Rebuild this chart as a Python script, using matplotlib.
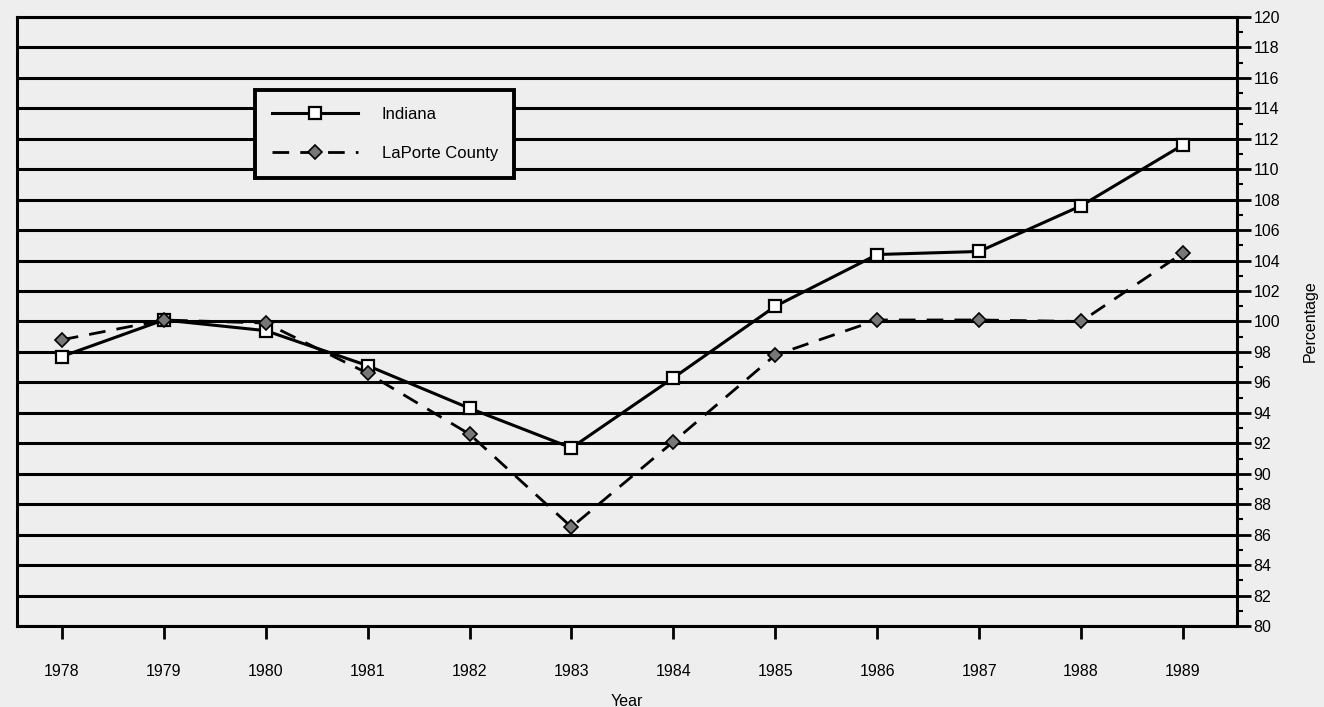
import matplotlib
matplotlib.use("Agg")
import matplotlib.pyplot as plt
from matplotlib.ticker import MultipleLocator

years = [1978, 1979, 1980, 1981, 1982, 1983, 1984, 1985, 1986, 1987, 1988, 1989]
indiana = [97.7, 100.1, 99.4, 97.1, 94.3, 91.7, 96.3, 101.0, 104.4, 104.6, 107.6, 111.6]
laporte = [98.8, 100.1, 99.9, 96.6, 92.6, 86.5, 92.1, 97.8, 100.1, 100.1, 100.0, 104.5]
y_ticks = list(range(80, 121, 2))

plt.rcParams['font.family'] = ['Liberation Sans', 'DejaVu Sans']
bg = '#eeeeee'

fig = plt.figure(figsize=(13.24, 7.07), dpi=100, facecolor=bg)
ax = fig.add_axes([17/1324, 1-626/707, 1220/1324, 609/707], facecolor=bg)

for v in y_ticks:
    ax.axhline(v, color='black', lw=2.2, zorder=1)

ax.plot(years, indiana, color='black', lw=2.2, ls='-', marker='s', ms=9,
        mfc='white', mec='black', mew=1.6, label='Indiana', zorder=3)
ax.plot(years, laporte, color='black', lw=2.0, ls=(0, (6, 4)), marker='D', ms=7,
        mfc='#777777', mec='black', mew=1.2, label='LaPorte County', zorder=3)

ax.set_xlim(1977.56, 1989.53)
ax.set_ylim(80, 120)
ax.set_xticks(years)
ax.set_xticklabels([str(y) for y in years], fontsize=11.5)
ax.yaxis.tick_right()
ax.yaxis.set_label_position('right')
ax.set_yticks(y_ticks)
ax.set_yticklabels([str(v) for v in y_ticks], fontsize=11.5)
ax.yaxis.set_minor_locator(MultipleLocator(1))
ax.tick_params(axis='y', which='major', direction='out', length=10, width=2, pad=2)
ax.tick_params(axis='y', which='minor', direction='out', length=4, width=1.5)
ax.tick_params(axis='x', which='major', direction='out', length=9, width=2, pad=18)

for s in ax.spines.values():
    s.set_linewidth(2.2)
    s.set_color('black')

ax.set_xlabel('Year', fontsize=11.5, labelpad=11)
ax.set_ylabel('Percentage', fontsize=11.5, labelpad=16, rotation=90)

leg = ax.legend(loc='upper left', bbox_to_anchor=(0.195, 0.88), fontsize=12,
                frameon=True, fancybox=False, shadow=False, handlelength=5.2,
                borderpad=1.0, labelspacing=1.45, handletextpad=1.4,
                borderaxespad=0)
leg.get_frame().set_edgecolor('black')
leg.get_frame().set_linewidth(2.8)
leg.get_frame().set_facecolor(bg)
leg.get_frame().set_alpha(1)
leg.set_zorder(5)

fig.savefig('out.png', dpi=100, facecolor=bg)
